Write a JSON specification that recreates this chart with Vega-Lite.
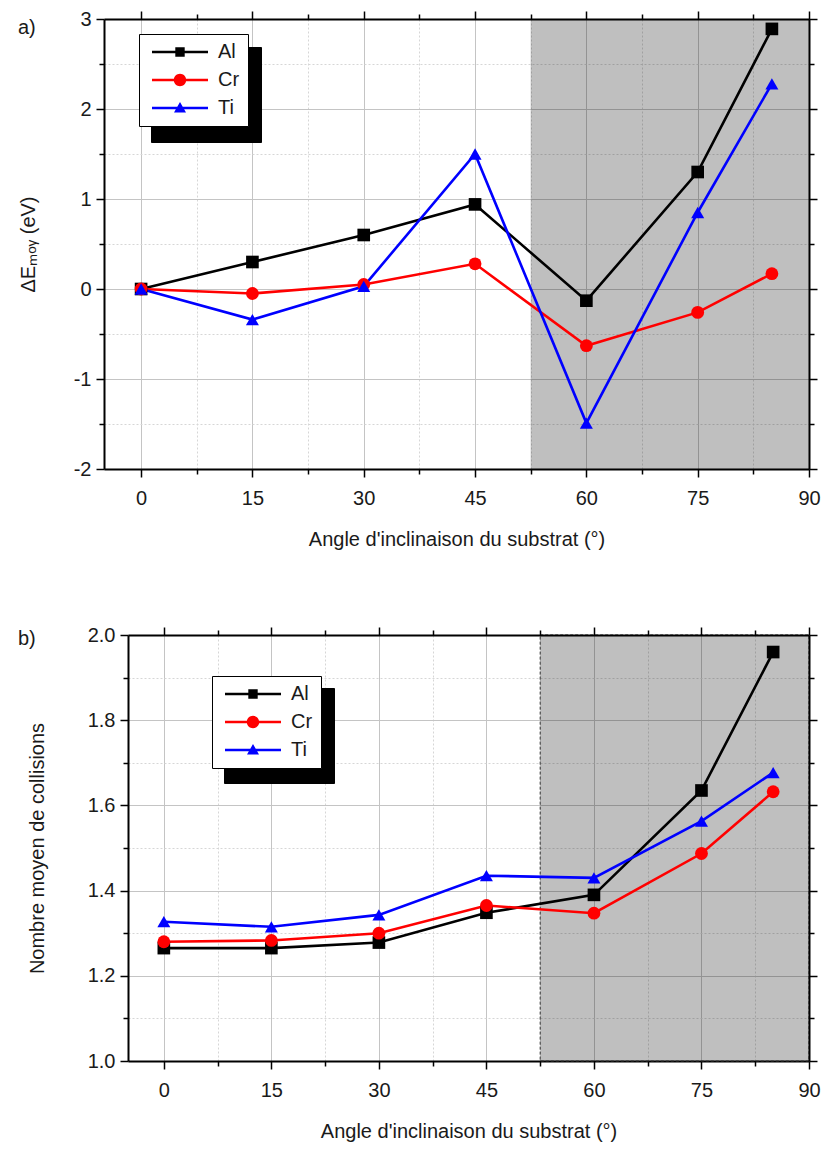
{
  "$schema": "https://vega.github.io/schema/vega-lite/v6.json",
  "padding": {"left": 17, "top": 9, "right": 6, "bottom": 8},
  "background": "white",
  "columns": 2,
  "align": "none",
  "datasets": {
    "region": [{"start": 52.5, "end": 90}],
    "energy": [
      {"angle": 0, "element": "Al", "value": 0},
      {"angle": 15, "element": "Al", "value": 0.30},
      {"angle": 30, "element": "Al", "value": 0.60},
      {"angle": 45, "element": "Al", "value": 0.94},
      {"angle": 60, "element": "Al", "value": -0.13},
      {"angle": 75, "element": "Al", "value": 1.30},
      {"angle": 85, "element": "Al", "value": 2.89},
      {"angle": 0, "element": "Cr", "value": 0},
      {"angle": 15, "element": "Cr", "value": -0.05},
      {"angle": 30, "element": "Cr", "value": 0.05},
      {"angle": 45, "element": "Cr", "value": 0.28},
      {"angle": 60, "element": "Cr", "value": -0.63},
      {"angle": 75, "element": "Cr", "value": -0.26},
      {"angle": 85, "element": "Cr", "value": 0.17},
      {"angle": 0, "element": "Ti", "value": 0},
      {"angle": 15, "element": "Ti", "value": -0.34},
      {"angle": 30, "element": "Ti", "value": 0.03},
      {"angle": 45, "element": "Ti", "value": 1.50},
      {"angle": 60, "element": "Ti", "value": -1.49},
      {"angle": 75, "element": "Ti", "value": 0.85},
      {"angle": 85, "element": "Ti", "value": 2.28}
    ],
    "collisions": [
      {"angle": 0, "element": "Al", "value": 1.265},
      {"angle": 15, "element": "Al", "value": 1.265},
      {"angle": 30, "element": "Al", "value": 1.278},
      {"angle": 45, "element": "Al", "value": 1.348},
      {"angle": 60, "element": "Al", "value": 1.390},
      {"angle": 75, "element": "Al", "value": 1.635},
      {"angle": 85, "element": "Al", "value": 1.960},
      {"angle": 0, "element": "Cr", "value": 1.280},
      {"angle": 15, "element": "Cr", "value": 1.283},
      {"angle": 30, "element": "Cr", "value": 1.300},
      {"angle": 45, "element": "Cr", "value": 1.365},
      {"angle": 60, "element": "Cr", "value": 1.347},
      {"angle": 75, "element": "Cr", "value": 1.487},
      {"angle": 85, "element": "Cr", "value": 1.632},
      {"angle": 0, "element": "Ti", "value": 1.327},
      {"angle": 15, "element": "Ti", "value": 1.315},
      {"angle": 30, "element": "Ti", "value": 1.343},
      {"angle": 45, "element": "Ti", "value": 1.435},
      {"angle": 60, "element": "Ti", "value": 1.430},
      {"angle": 75, "element": "Ti", "value": 1.563},
      {"angle": 85, "element": "Ti", "value": 1.677}
    ]
  },
  "spacing": {"row": 76, "column": 0},
  "resolve": {"scale": {"color": "independent", "shape": "independent", "size": "independent"}},
  "concat": [
    {
      "data": {"values": []},
      "mark": {"type": "point", "opacity": 0},
      "width": 1,
      "height": 1
    },
    {
      "width": 705,
      "height": 450,
      "title": {"text": "a)", "anchor": "start", "frame": "group", "orient": "top", "offset": 0, "dx": -86, "dy": 29, "fontSize": 20, "font": "Liberation Sans", "fontWeight": "normal", "color": "#1a1a1a"},
      "layer": [
        {
          "data": {"name": "region"},
          "mark": {"type": "rect", "fill": "#000000", "fillOpacity": 0.25},
          "encoding": {
            "x": {"field": "start", "type": "quantitative", "scale": {"domain": [-5, 90], "nice": false, "zero": false}, "axis": null},
            "x2": {"field": "end"}
          }
        },
        {
          "data": {"name": "energy"},
          "mark": {"type": "line", "strokeWidth": 2.6},
          "encoding": {
            "x": {"field": "angle", "type": "quantitative", "scale": {"domain": [-5, 90], "nice": false, "zero": false},
              "axis": {"orient": "bottom", "values": [0, 7.5, 15, 22.5, 30, 37.5, 45, 52.5, 60, 67.5, 75, 82.5, 90],
                "labelExpr": "datum.value % 15 === 0 ? datum.label : ''", "labelOverlap": false, "labelFlush": false,
                "tickSize": {"condition": {"test": "datum.value % 15 === 0", "value": 8}, "value": 5},
                "gridDash": {"condition": {"test": "datum.value % 15 === 0", "value": []}, "value": [2, 2]},
                "gridColor": {"condition": {"test": "datum.value % 15 === 0", "value": "#c4c4c4"}, "value": "#d6d6d6"},
                "grid": true, "labelPadding": 11, "title": "Angle d'inclinaison du substrat (°)", "titlePadding": 21}},
            "y": {"field": "value", "type": "quantitative", "scale": {"domain": [-2, 3], "nice": false, "zero": false},
              "axis": {"orient": "left", "values": [-2, -1.5, -1, -0.5, 0, 0.5, 1, 1.5, 2, 2.5, 3],
                "labelExpr": "datum.value % 1 === 0 ? '' + datum.value : ''", "labelOverlap": false, "labelFlush": false,
                "tickSize": {"condition": {"test": "datum.value % 1 === 0", "value": 8}, "value": 5},
                "gridDash": {"condition": {"test": "datum.value % 1 === 0", "value": []}, "value": [2, 2]},
                "gridColor": {"condition": {"test": "datum.value % 1 === 0", "value": "#c4c4c4"}, "value": "#d6d6d6"},
                "grid": true, "labelPadding": 5, "title": "ΔEₘₒᵧ (eV)", "titlePadding": 35}},
            "color": {"field": "element", "type": "nominal", "scale": {"range": ["#000000", "#ff0000", "#0000ff"]},
              "legend": {"orient": "none", "legendX": 47, "legendY": 28, "title": null, "fillColor": "#000000", "strokeColor": "#000000",
                "labelColor": "#000000", "labelFontSize": 20, "labelFont": "Liberation Sans", "labelExpr": "'\u2003'", "symbolSize": 400, "symbolOpacity": 0,
                "symbolOffset": 23, "labelOffset": 49, "padding": 8, "rowPadding": 8, "zindex": 0}}
          }
        },
        {
          "data": {"name": "energy"},
          "mark": {"type": "point", "filled": true, "opacity": 1},
          "encoding": {
            "x": {"field": "angle", "type": "quantitative", "scale": {"domain": [-5, 90], "nice": false, "zero": false},
              "axis": {"orient": "top", "values": [0, 7.5, 15, 22.5, 30, 37.5, 45, 52.5, 60, 67.5, 75, 82.5, 90], "labels": false, "grid": false, "title": null, "zindex": 1,
                "tickSize": {"condition": {"test": "datum.value % 15 === 0", "value": 8}, "value": 5}}},
            "y": {"field": "value", "type": "quantitative", "scale": {"domain": [-2, 3], "nice": false, "zero": false},
              "axis": {"orient": "right", "values": [-2, -1.5, -1, -0.5, 0, 0.5, 1, 1.5, 2, 2.5, 3], "labels": false, "grid": false, "title": null, "zindex": 1,
                "tickSize": {"condition": {"test": "datum.value % 1 === 0", "value": 8}, "value": 5}}},
            "color": {"field": "element", "type": "nominal", "scale": {"range": ["#000000", "#ff0000", "#0000ff"]}, "legend": null},
            "size": {"field": "element", "type": "nominal", "scale": {"range": [160, 169, 260]}, "legend": null},
            "shape": {"field": "element", "type": "nominal", "scale": {"range": ["square", "circle", "triangle-up"]}, "legend": null}
          }
        },
        {
          "data": {"name": "energy"},
          "transform": [{"filter": "datum.angle < -100"}],
          "mark": {"type": "point", "filled": true},
          "encoding": {
            "x": {"field": "angle", "type": "quantitative", "scale": {"domain": [-5, 90], "nice": false, "zero": false}, "axis": null},
            "y": {"field": "value", "type": "quantitative", "scale": {"domain": [-2, 3], "nice": false, "zero": false}, "axis": null},
            "color": {"field": "element", "type": "nominal", "scale": {"domain": ["Al", "Cr", "Ti"], "range": ["#000000", "#ff0000", "#0000ff"]},
              "legend": {"orient": "none", "legendX": 35, "legendY": 15, "title": null, "fillColor": "#ffffff", "strokeColor": "#000000",
                "labelColor": "#1a1a1a", "labelFontSize": 20, "labelFont": "Liberation Sans", "symbolSize": 400, "symbolOpacity": 1, "symbolStrokeWidth": 0,
                "symbolOffset": 23, "labelOffset": 28, "padding": 8, "rowPadding": 8, "zindex": 1}},
            "shape": {"field": "element", "type": "nominal", "scale": {"domain": ["Al", "Cr", "Ti"], "range": [
                "M-2.8,-0.12H2.8V0.12H-2.8Z M-0.47,-0.47H0.47V0.47H-0.47Z",
                "M-2.8,-0.12H2.8V0.12H-2.8Z M0.62,0A0.62,0.62,0,1,1,-0.62,0A0.62,0.62,0,1,1,0.62,0Z",
                "M-2.8,-0.12H2.8V0.12H-2.8Z M0,-0.6L0.6,0.45L-0.6,0.45Z"]},
              "legend": {"orient": "none", "legendX": 35, "legendY": 15, "title": null, "fillColor": "#ffffff", "strokeColor": "#000000",
                "labelColor": "#1a1a1a", "labelFontSize": 20, "labelFont": "Liberation Sans", "symbolSize": 400, "symbolOpacity": 1, "symbolStrokeWidth": 0,
                "symbolOffset": 23, "labelOffset": 28, "padding": 8, "rowPadding": 8, "zindex": 1}}
          }
        }
      ],
      "resolve": {"scale": {"color": "independent", "shape": "independent"}, "axis": {"x": "independent", "y": "independent"}}
    },
    {
      "data": {"values": []},
      "mark": {"type": "point", "opacity": 0},
      "width": 1,
      "height": 1
    },
    {
      "width": 681,
      "height": 426,
      "title": {"text": "b)", "anchor": "start", "frame": "group", "orient": "top", "offset": 0, "dx": -110, "dy": 24, "fontSize": 20, "font": "Liberation Sans", "fontWeight": "normal", "color": "#1a1a1a"},
      "layer": [
        {
          "data": {"name": "region"},
          "mark": {"type": "rect", "fill": "#000000", "fillOpacity": 0.25, "stroke": "#333333", "strokeWidth": 1, "strokeDash": [3, 2]},
          "encoding": {
            "x": {"field": "start", "type": "quantitative", "scale": {"domain": [-5, 90], "nice": false, "zero": false}, "axis": null},
            "x2": {"field": "end"}
          }
        },
        {
          "data": {"name": "collisions"},
          "mark": {"type": "line", "strokeWidth": 2.6},
          "encoding": {
            "x": {"field": "angle", "type": "quantitative", "scale": {"domain": [-5, 90], "nice": false, "zero": false},
              "axis": {"orient": "bottom", "values": [0, 7.5, 15, 22.5, 30, 37.5, 45, 52.5, 60, 67.5, 75, 82.5, 90],
                "labelExpr": "datum.value % 15 === 0 ? datum.label : ''", "labelOverlap": false, "labelFlush": false,
                "tickSize": {"condition": {"test": "datum.value % 15 === 0", "value": 8}, "value": 5},
                "gridDash": {"condition": {"test": "datum.value % 15 === 0", "value": []}, "value": [2, 2]},
                "gridColor": {"condition": {"test": "datum.value % 15 === 0", "value": "#c4c4c4"}, "value": "#d6d6d6"},
                "grid": true, "labelPadding": 11, "title": "Angle d'inclinaison du substrat (°)", "titlePadding": 21}},
            "y": {"field": "value", "type": "quantitative", "scale": {"domain": [1, 2], "nice": false, "zero": false},
              "axis": {"orient": "left", "values": [1, 1.1, 1.2, 1.3, 1.4, 1.5, 1.6, 1.7, 1.8, 1.9, 2],
                "labelExpr": "round(datum.value * 10) % 2 === 0 ? format(datum.value, '.1f') : ''", "labelOverlap": false, "labelFlush": false,
                "tickSize": {"condition": {"test": "round(datum.value * 10) % 2 === 0", "value": 8}, "value": 5},
                "gridDash": {"condition": {"test": "round(datum.value * 10) % 2 === 0", "value": []}, "value": [2, 2]},
                "gridColor": {"condition": {"test": "round(datum.value * 10) % 2 === 0", "value": "#c4c4c4"}, "value": "#d6d6d6"},
                "grid": true, "labelPadding": 5, "title": "Nombre moyen de collisions", "titlePadding": 40}},
            "color": {"field": "element", "type": "nominal", "scale": {"range": ["#000000", "#ff0000", "#0000ff"]},
              "legend": {"orient": "none", "legendX": 96, "legendY": 53, "title": null, "fillColor": "#000000", "strokeColor": "#000000",
                "labelColor": "#000000", "labelFontSize": 20, "labelFont": "Liberation Sans", "labelExpr": "'\u2003'", "symbolSize": 400, "symbolOpacity": 0,
                "symbolOffset": 23, "labelOffset": 49, "padding": 8, "rowPadding": 8, "zindex": 0}}
          }
        },
        {
          "data": {"name": "collisions"},
          "mark": {"type": "point", "filled": true, "opacity": 1},
          "encoding": {
            "x": {"field": "angle", "type": "quantitative", "scale": {"domain": [-5, 90], "nice": false, "zero": false},
              "axis": {"orient": "top", "values": [0, 7.5, 15, 22.5, 30, 37.5, 45, 52.5, 60, 67.5, 75, 82.5, 90], "labels": false, "grid": false, "title": null, "zindex": 1,
                "tickSize": {"condition": {"test": "datum.value % 15 === 0", "value": 8}, "value": 5}}},
            "y": {"field": "value", "type": "quantitative", "scale": {"domain": [1, 2], "nice": false, "zero": false},
              "axis": {"orient": "right", "values": [1, 1.1, 1.2, 1.3, 1.4, 1.5, 1.6, 1.7, 1.8, 1.9, 2], "labels": false, "grid": false, "title": null, "zindex": 1,
                "tickSize": {"condition": {"test": "round(datum.value * 10) % 2 === 0", "value": 8}, "value": 5}}},
            "color": {"field": "element", "type": "nominal", "scale": {"range": ["#000000", "#ff0000", "#0000ff"]}, "legend": null},
            "size": {"field": "element", "type": "nominal", "scale": {"range": [160, 169, 260]}, "legend": null},
            "shape": {"field": "element", "type": "nominal", "scale": {"range": ["square", "circle", "triangle-up"]}, "legend": null}
          }
        },
        {
          "data": {"name": "collisions"},
          "transform": [{"filter": "datum.angle < -100"}],
          "mark": {"type": "point", "filled": true},
          "encoding": {
            "x": {"field": "angle", "type": "quantitative", "scale": {"domain": [-5, 90], "nice": false, "zero": false}, "axis": null},
            "y": {"field": "value", "type": "quantitative", "scale": {"domain": [1, 2], "nice": false, "zero": false}, "axis": null},
            "color": {"field": "element", "type": "nominal", "scale": {"domain": ["Al", "Cr", "Ti"], "range": ["#000000", "#ff0000", "#0000ff"]},
              "legend": {"orient": "none", "legendX": 84, "legendY": 41, "title": null, "fillColor": "#ffffff", "strokeColor": "#000000",
                "labelColor": "#1a1a1a", "labelFontSize": 20, "labelFont": "Liberation Sans", "symbolSize": 400, "symbolOpacity": 1, "symbolStrokeWidth": 0,
                "symbolOffset": 23, "labelOffset": 28, "padding": 8, "rowPadding": 8, "zindex": 1}},
            "shape": {"field": "element", "type": "nominal", "scale": {"domain": ["Al", "Cr", "Ti"], "range": [
                "M-2.8,-0.12H2.8V0.12H-2.8Z M-0.47,-0.47H0.47V0.47H-0.47Z",
                "M-2.8,-0.12H2.8V0.12H-2.8Z M0.62,0A0.62,0.62,0,1,1,-0.62,0A0.62,0.62,0,1,1,0.62,0Z",
                "M-2.8,-0.12H2.8V0.12H-2.8Z M0,-0.6L0.6,0.45L-0.6,0.45Z"]},
              "legend": {"orient": "none", "legendX": 84, "legendY": 41, "title": null, "fillColor": "#ffffff", "strokeColor": "#000000",
                "labelColor": "#1a1a1a", "labelFontSize": 20, "labelFont": "Liberation Sans", "symbolSize": 400, "symbolOpacity": 1, "symbolStrokeWidth": 0,
                "symbolOffset": 23, "labelOffset": 28, "padding": 8, "rowPadding": 8, "zindex": 1}}
          }
        }
      ],
      "resolve": {"scale": {"color": "independent", "shape": "independent"}, "axis": {"x": "independent", "y": "independent"}}
    }
  ],
  "config": {
    "view": {"stroke": null},
    "font": "Liberation Sans",
    "axis": {"domainColor": "#000000", "domainWidth": 2, "tickColor": "#000000", "tickWidth": 1.5,
      "labelFont": "Liberation Sans", "labelFontSize": 20, "labelColor": "#1a1a1a",
      "titleFont": "Liberation Sans", "titleFontSize": 20, "titleFontWeight": "normal", "titleColor": "#1a1a1a",
      "gridWidth": 1}
  }
}
